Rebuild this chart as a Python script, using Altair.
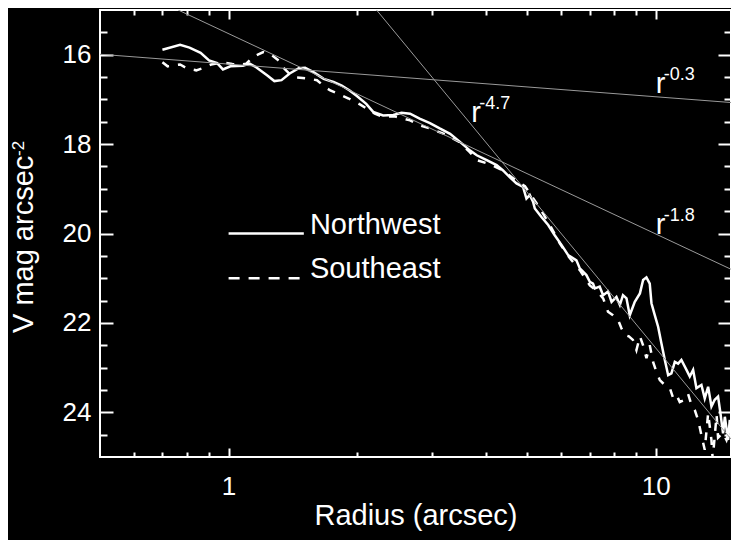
import altair as alt
import pandas as pd

FONT = "Liberation Sans"

# ---- surface brightness profiles (radius in arcsec, V mag arcsec^-2) ----
nw_radius = [0.70, 0.77, 0.81, 0.86, 0.90, 0.94, 0.97, 1.01, 1.08, 1.12, 1.16, 1.23, 1.28, 1.33,
             1.39, 1.46, 1.51, 1.58, 1.67, 1.76, 1.84, 1.92, 2.00, 2.10, 2.18, 2.30, 2.43, 2.54,
             2.66, 2.80, 2.96, 3.12, 3.30, 3.48, 3.67, 3.81, 4.02, 4.24, 4.39, 4.55, 4.72, 4.89,
             4.98, 5.07, 5.16, 5.21, 5.40, 5.60, 5.80, 6.02, 6.23, 6.52, 6.64, 6.88, 7.01, 7.13,
             7.20, 7.39, 7.53, 7.73, 7.88, 8.09, 8.24, 8.38, 8.54, 8.69, 8.93, 9.18, 9.34, 9.51,
             9.68, 9.77, 9.95, 10.13, 10.31, 10.50, 10.69, 10.88, 11.08, 11.28, 11.48, 11.80,
             12.01, 12.23, 12.45, 12.79, 13.02, 13.26, 13.50, 13.74, 13.99, 14.17, 14.37, 14.51,
             14.77, 14.90]
nw_mag = [15.89, 15.78, 15.84, 15.96, 16.13, 16.19, 16.33, 16.26, 16.25, 16.20, 16.28, 16.46, 16.59, 16.57,
          16.42, 16.30, 16.29, 16.39, 16.54, 16.61, 16.69, 16.80, 16.93, 17.10, 17.28, 17.36, 17.35, 17.30,
          17.32, 17.43, 17.53, 17.65, 17.77, 17.95, 18.14, 18.25, 18.36, 18.47, 18.59, 18.74, 18.88, 18.96,
          19.22, 19.14, 19.29, 19.44, 19.63, 19.81, 20.04, 20.26, 20.48, 20.60, 20.78, 20.93, 21.08, 21.12,
          21.23, 21.19, 21.38, 21.30, 21.53, 21.42, 21.60, 21.38, 21.45, 21.83, 21.53, 21.34, 21.04, 20.98,
          21.12, 21.56, 21.83, 22.09, 22.46, 22.83, 23.17, 23.13, 22.87, 22.91, 22.83, 23.05,
          23.20, 23.05, 23.46, 23.39, 23.69, 23.43, 23.87, 23.72, 23.65, 24.02, 24.47, 24.10,
          24.62, 24.17]

se_radius = [0.70, 0.72, 0.77, 0.80, 0.84, 0.87, 0.91, 0.965, 1.02, 1.06, 1.10, 1.14, 1.205, 1.25,
             1.31, 1.34, 1.40, 1.44, 1.49, 1.55, 1.61, 1.68, 1.73, 1.84, 1.91, 2.03, 2.20, 2.30,
             2.45, 2.66, 2.80, 2.96, 3.21, 3.48, 3.67, 3.81, 4.09, 4.39, 4.60, 4.72, 4.94, 5.07,
             5.35, 5.65, 5.96, 6.29, 6.64, 7.01, 7.30, 7.53, 7.73, 7.94, 8.15, 8.31, 8.46, 8.65,
             8.84, 9.01, 9.18, 9.34, 9.51, 9.68, 9.86, 10.04, 10.22, 10.50, 10.79, 10.98, 11.18,
             11.38, 11.69, 11.90, 12.12, 12.34, 12.56, 12.79, 13.02, 13.26, 13.50, 13.59, 13.88,
             13.99, 14.37, 14.64, 14.90]
se_mag = [16.17, 16.26, 16.22, 16.31, 16.35, 16.30, 16.22, 16.17, 16.21, 16.23, 16.20, 16.05, 15.94, 15.98,
          16.13, 16.28, 16.46, 16.51, 16.52, 16.54, 16.57, 16.72, 16.80, 16.91, 16.98, 17.11, 17.32, 17.39,
          17.38, 17.47, 17.58, 17.65, 17.78, 17.96, 18.18, 18.36, 18.45, 18.59, 18.74, 18.82, 18.94, 19.10,
          19.43, 19.81, 20.22, 20.55, 20.82, 21.16, 21.30, 21.45, 21.75, 21.83, 21.92, 22.12, 22.27, 22.30,
          22.38, 22.61, 22.30, 22.50, 22.79, 22.50, 22.88, 23.10, 23.28, 23.39, 23.46, 23.68, 23.61,
          23.77, 23.72, 23.59, 23.83, 23.95, 24.17, 24.51, 24.84, 24.02, 24.62, 25.05, 24.06,
          24.57, 24.46, 24.62, 24.35]

# ---- power-law guide lines (end points) ----
fit_names = ["r-0.3", "r-1.8", "r-4.7"]
fit_r_start = [0.5, 0.762, 2.22]
fit_r_end = [15.0, 15.0, 15.0]
fit_mag_start = [15.99, 15.0, 15.0]
fit_mag_end = [17.07, 20.8, 24.6]

label_base = ["r", "r", "r"]
label_exp = ["-0.3", "-4.7", "-1.8"]
label_r = [10.0, 3.7, 10.0]
label_mag = [16.85, 17.5, 20.0]

legend_names = ["Northwest", "Southeast"]
legend_mag = [20.0, 21.0]
legend_r = [1.0, 1.5]
legend_text_r = 1.55

x_major = [1, 10]
x_minor = [0.6, 0.7, 0.8, 0.9, 2, 3, 4, 5, 6, 7, 8, 9]
y_major = [16, 18, 20, 22, 24]
y_minor = [15.5, 16.5, 17, 17.5, 18.5, 19, 19.5, 20.5, 21, 21.5, 22.5, 23, 23.5, 24.5]

# ---- tables ----
nw = pd.DataFrame({"r": nw_radius, "mag": nw_mag})
se = pd.DataFrame({"r": se_radius, "mag": se_mag})
fits = pd.DataFrame({
    "fit": fit_names + fit_names,
    "r": fit_r_start + fit_r_end,
    "mag": fit_mag_start + fit_mag_end,
})
labels = pd.DataFrame({"base": label_base, "exp": label_exp, "r": label_r, "mag": label_mag})
leg_solid = pd.DataFrame({"r": legend_r, "mag": [legend_mag[0]] * 2})
leg_dash = pd.DataFrame({"r": legend_r, "mag": [legend_mag[1]] * 2})
leg_text = pd.DataFrame({"name": legend_names, "r": [legend_text_r] * 2, "mag": legend_mag})

xs = alt.Scale(type="log", domain=[0.5, 15], nice=False)
ys = alt.Scale(domain=[15, 25], reverse=True, nice=False, zero=False)


def tick_axis(orient, values, size):
    return alt.Axis(orient=orient, values=values, labels=False, domain=False, ticks=True,
                    tickSize=size, tickWidth=2, tickColor="white", offset=-size,
                    title=None, grid=False)


x_lab = alt.Axis(orient="bottom", values=x_major, format="d", domain=False, ticks=False,
                 grid=False, labelColor="white", labelFont=FONT, labelFontSize=26,
                 labelPadding=16, title="Radius (arcsec)", titleColor="white",
                 titleFont=FONT, titleFontSize=29, titleFontWeight="normal",
                 titleY=67, titleBaseline="alphabetic")
y_lab = alt.Axis(orient="left", values=y_major, format="d", domain=False, ticks=False,
                 grid=False, labelColor="white", labelFont=FONT, labelFontSize=26,
                 labelPadding=9, title=None)

A = alt.Chart(nw).mark_line(color="white", strokeWidth=2.5, clip=True).encode(
    x=alt.X("r:Q", scale=xs, axis=x_lab),
    y=alt.Y("mag:Q", scale=ys, axis=y_lab),
)
B = alt.Chart(se).mark_line(color="white", strokeWidth=2.5, strokeDash=[8, 9], clip=True).encode(
    x=alt.X("r:Q", scale=xs, axis=tick_axis("bottom", x_major, 9)),
    y=alt.Y("mag:Q", scale=ys, axis=tick_axis("left", y_major, 13)),
)
C = alt.Chart(fits).mark_line(color="#9a9a9a", strokeWidth=1, clip=True).encode(
    x=alt.X("r:Q", scale=xs, axis=tick_axis("bottom", x_minor, 5)),
    y=alt.Y("mag:Q", scale=ys, axis=tick_axis("left", y_minor, 7)),
    detail="fit:N",
)
D = alt.Chart(leg_solid).mark_line(color="white", strokeWidth=2.5).encode(
    x=alt.X("r:Q", scale=xs, axis=tick_axis("top", x_major, 9)),
    y=alt.Y("mag:Q", scale=ys, axis=tick_axis("right", y_major, 13)),
)
E = alt.Chart(leg_dash).mark_line(color="white", strokeWidth=2.5, strokeDash=[11, 9]).encode(
    x=alt.X("r:Q", scale=xs, axis=tick_axis("top", x_minor, 5)),
    y=alt.Y("mag:Q", scale=ys, axis=tick_axis("right", y_minor, 7)),
)
F = alt.Chart(leg_text).mark_text(color="white", font=FONT, fontSize=29, align="left",
                                  baseline="alphabetic").encode(
    x=alt.X("r:Q", scale=xs, axis=None),
    y=alt.Y("mag:Q", scale=ys, axis=None),
    text="name:N",
)
G = alt.Chart(labels).mark_text(color="white", font=FONT, fontSize=29, align="left",
                                baseline="alphabetic").encode(
    x=alt.X("r:Q", scale=xs, axis=None),
    y=alt.Y("mag:Q", scale=ys, axis=None),
    text="base:N",
)
H = alt.Chart(labels).mark_text(color="white", font=FONT, fontSize=18, align="left",
                                baseline="alphabetic", dx=8, dy=-13).encode(
    x=alt.X("r:Q", scale=xs, axis=None),
    y=alt.Y("mag:Q", scale=ys, axis=None),
    text="exp:N",
)
ytitle = pd.DataFrame({"t": ["V mag arcsec"]})
ysup = pd.DataFrame({"t": ["-2"]})
I = alt.Chart(ytitle).mark_text(color="white", font=FONT, fontSize=29, angle=270, align="left",
                                baseline="alphabetic").encode(
    x=alt.value(-67), y=alt.value(323), text="t:N")
J = alt.Chart(ysup).mark_text(color="white", font=FONT, fontSize=17, angle=270, align="left",
                              baseline="alphabetic").encode(
    x=alt.value(-76), y=alt.value(146), text="t:N")

chart = alt.layer(A, B, C, D, E, F, G, H, I, J).resolve_axis(
    x="independent", y="independent"
).properties(
    width=631, height=447, background="black",
    padding={"left": 92, "top": 2, "right": 0, "bottom": 83},
    autosize=alt.AutoSizeParams(type="none"),
).configure_view(stroke="white", strokeWidth=2)

chart.save("out.html", embed_options={"renderer": "svg", "actions": False})
